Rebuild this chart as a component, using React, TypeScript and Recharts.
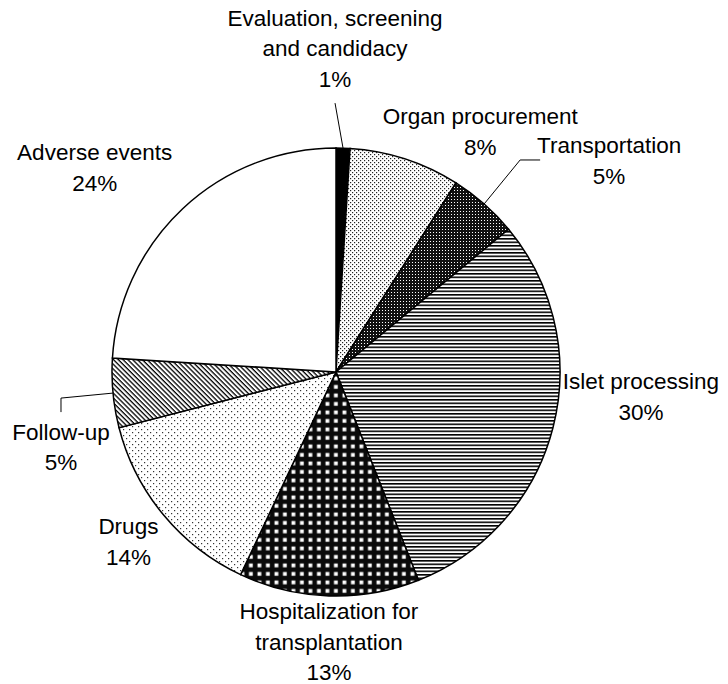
import { Cell, Pie, PieChart } from "recharts";

const categories = [
  "Evaluation, screening and candidacy",
  "Organ procurement",
  "Transportation",
  "Islet processing",
  "Hospitalization for transplantation",
  "Drugs",
  "Follow-up",
  "Adverse events",
];

const shares = [1, 8, 5, 30, 13, 14, 5, 24];

const labelLines = [
  ["Evaluation, screening", "and candidacy", "1%"],
  ["Organ procurement", "8%"],
  ["Transportation", "5%"],
  ["Islet processing", "30%"],
  ["Hospitalization for", "transplantation", "13%"],
  ["Drugs", "14%"],
  ["Follow-up", "5%"],
  ["Adverse events", "24%"],
];

const data = categories.map((name, i) => ({ name, value: shares[i] }));

const fills = [
  "#000",
  "url(#dotsFine)",
  "url(#darkDots)",
  "url(#hLines)",
  "url(#grid)",
  "url(#dotsSparse)",
  "url(#diag)",
  "#fff",
];

// label offsets from the slice's outer edge midpoint
const labelLayout = [
  { dx: -8, dy: -130, lead: [[-8, -45]] },
  { dx: 75, dy: -42 },
  { dx: 125, dy: -58, lead: [[36, -44], [56, -44]] },
  { dx: 88, dy: -46 },
  { dx: 0, dy: 16 },
  { dx: -35, dy: 12 },
  { dx: -52, dy: 39, lead: [[-52, 5], [-52, 19]] },
  { dx: -88, dy: -56 },
];

const RAD = Math.PI / 180;
const LINE_GAP = 30.5;

function renderLabel(props: any) {
  const { cx, cy, midAngle, outerRadius, index } = props;
  const ax = cx + outerRadius * Math.cos(-midAngle * RAD);
  const ay = cy + outerRadius * Math.sin(-midAngle * RAD);
  const lay = labelLayout[index];
  const lines = labelLines[index];
  const pts = lay.lead
    ? [[ax, ay], ...lay.lead.map(([x, y]) => [ax + x, ay + y])]
    : null;
  return (
    <g key={`lbl-${index}`}>
      {pts && (
        <polyline
          points={pts.map((p) => p.join(",")).join(" ")}
          fill="none"
          stroke="#000"
          strokeWidth={1}
        />
      )}
      {lines.map((t, j) => (
        <text
          key={j}
          x={ax + lay.dx}
          y={ay + lay.dy + j * LINE_GAP}
          textAnchor="middle"
          dominantBaseline="central"
          fill="#000"
          style={{ fontSize: 22.5, fontFamily: "'Liberation Sans', Arial, sans-serif" }}
        >
          {t}
        </text>
      ))}
    </g>
  );
}

export default function App() {
  return (
    <div style={{ position: "absolute", left: 0, top: 0, background: "#fff" }}>
      <PieChart width={728} height={684} margin={{ top: 0, right: 0, bottom: 0, left: 0 }}>
        <defs>
          <pattern id="dotsFine" width={4} height={4} patternUnits="userSpaceOnUse">
            <rect width={4} height={4} fill="#fff" />
            <rect x={0} y={0} width={1.2} height={1.2} fill="#222" />
            <rect x={2} y={2} width={1.2} height={1.2} fill="#222" />
          </pattern>
          <pattern id="darkDots" width={3} height={3} patternUnits="userSpaceOnUse">
            <rect width={3} height={3} fill="#111" />
            <rect x={1} y={1} width={1} height={1} fill="#fff" />
          </pattern>
          <pattern id="hLines" width={8} height={3.5} patternUnits="userSpaceOnUse">
            <rect width={8} height={3.5} fill="#fff" />
            <rect y={0} width={8} height={1.6} fill="#000" />
          </pattern>
          <pattern id="grid" width={8.5} height={8.5} patternUnits="userSpaceOnUse">
            <rect width={8.5} height={8.5} fill="#0a0a0a" />
            <rect x={2.5} y={2.5} width={3.8} height={3.8} fill="#fff" />
          </pattern>
          <pattern id="dotsSparse" width={6} height={6} patternUnits="userSpaceOnUse">
            <rect width={6} height={6} fill="#fff" />
            <rect x={0} y={0} width={1.2} height={1.2} fill="#333" />
            <rect x={3} y={3} width={1.2} height={1.2} fill="#333" />
          </pattern>
          <pattern
            id="diag"
            width={8}
            height={3.4}
            patternUnits="userSpaceOnUse"
            patternTransform="rotate(45)"
          >
            <rect width={8} height={3.4} fill="#fff" />
            <rect y={0} width={8} height={1.3} fill="#000" />
          </pattern>
        </defs>
        <Pie
          data={data}
          dataKey="value"
          nameKey="name"
          cx={336}
          cy={372}
          outerRadius={224}
          startAngle={90}
          endAngle={-270}
          stroke="#000"
          strokeWidth={1.5}
          label={renderLabel}
          labelLine={false}
          isAnimationActive={false}
        >
          {data.map((d, i) => (
            <Cell key={d.name} fill={fills[i]} />
          ))}
        </Pie>
      </PieChart>
    </div>
  );
}
